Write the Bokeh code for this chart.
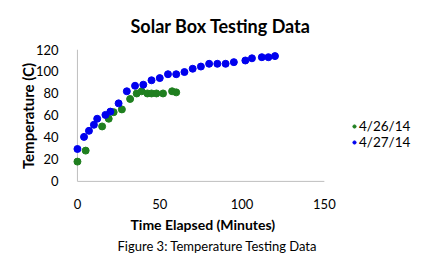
from bokeh.plotting import figure
from bokeh.models import Range1d, FixedTicker, Legend, LegendItem, Title
from bokeh.embed import file_html
from bokeh.resources import INLINE

# Data
green_label = "4/26/14"
green_time = [0, 5, 15, 19, 22, 27, 32, 36, 39, 42.5, 45, 48, 52, 57.5, 60]
green_temp = [18, 28, 50, 57, 63, 65.5, 75, 80, 82, 80, 80, 80, 80, 82, 81]

blue_label = "4/27/14"
blue_time = [0, 4, 7, 10, 12, 17, 20, 25, 30, 35, 40, 45, 50, 55, 60, 65, 70,
             75, 80, 85, 90, 95, 102, 106, 112, 116, 120]
blue_temp = [29.5, 40.5, 46, 51.5, 57, 60.5, 63.5, 71, 82, 87, 88, 92, 94, 97.5,
             97.5, 99.5, 102.5, 104.5, 107, 107, 107, 108.5, 110, 112, 113, 113, 114]

x_ticks = [0, 50, 100, 150]
y_ticks = [0, 20, 40, 60, 80, 100, 120]

title_text = "Solar Box Testing Data"
x_title = "Time Elapsed (Minutes)"
y_title = "Temperature (C)"
caption_text = "Figure 3: Temperature Testing Data"

FONT = "Lato"
TEXT = "#000000"

# frame is widened to the right so the legend sits inside it (no clipping)
p = figure(frame_width=349, frame_height=133, output_backend="svg",
           toolbar_location=None,
           x_range=Range1d(-3, 209), y_range=Range1d(-1, 120),
           min_border_left=72, min_border_right=0, min_border_top=48,
           min_border_bottom=0)
p.outline_line_color = None
p.grid.grid_line_color = None
p.background_fill_color = "white"
p.border_fill_color = "white"

for ax in (p.xaxis[0], p.yaxis[0]):
    ax.axis_line_color = None
    ax.major_tick_line_color = None
    ax.minor_tick_line_color = None
    ax.major_label_text_font = FONT
    ax.major_label_text_font_size = "13px"
    ax.major_label_text_color = TEXT
    ax.axis_label_text_font = FONT
    ax.axis_label_text_font_style = "bold"
    ax.axis_label_text_font_size = "15px"
    ax.axis_label_text_color = TEXT

p.xaxis.ticker = FixedTicker(ticks=x_ticks)
p.yaxis.ticker = FixedTicker(ticks=y_ticks)
p.yaxis.axis_label = y_title
p.xaxis.major_label_standoff = 10
p.yaxis.major_label_standoff = 8
p.yaxis.axis_label_standoff = -4

# axis lines drawn from 0
p.segment(x0=[0, 0], y0=[0, 0], x1=[x_ticks[-1], 0], y1=[0, y_ticks[-1]],
          line_color="#bfbfbf", line_width=1)

g = p.scatter(green_time, green_temp, size=7, color="#1f7f1f")
b = p.scatter(blue_time, blue_temp, size=7, color="#0000ee")

legend = Legend(items=[LegendItem(label=green_label, renderers=[g]),
                       LegendItem(label=blue_label, renderers=[b])],
                location=(278, 32), orientation="vertical",
                glyph_width=8, glyph_height=16, label_height=16, spacing=0,
                padding=0, margin=0, label_standoff=1,
                label_text_font=FONT, label_text_font_size="13.5px",
                label_text_color=TEXT, border_line_color=None,
                background_fill_alpha=0)
p.add_layout(legend, "center")

p.title = Title(text=title_text, align="left", offset=58, standoff=25,
                text_font=FONT, text_font_style="bold", text_font_size="18px",
                text_color=TEXT)
p.add_layout(Title(text=x_title, align="left", offset=58, standoff=4,
                   text_font=FONT, text_font_style="bold",
                   text_font_size="14px", text_color=TEXT), "below")
p.add_layout(Title(text=caption_text, align="left", offset=45, standoff=2,
                   text_font=FONT, text_font_style="normal",
                   text_font_size="13px", text_color=TEXT), "below")

open("out.html", "w").write(file_html(p, INLINE))
